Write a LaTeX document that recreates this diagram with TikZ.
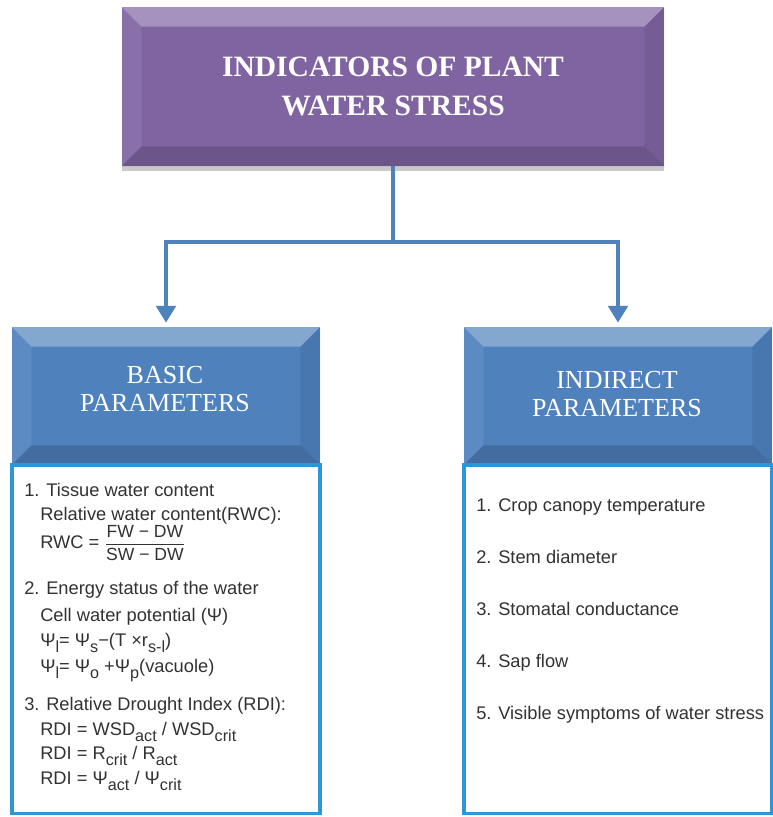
\documentclass[tikz,border=0pt]{standalone}
\usepackage{fontspec}
\setmainfont{Liberation Serif}
\newfontfamily\arialfont{Liberation Sans}
\usetikzlibrary{arrows.meta}
\usetikzlibrary{shadows}
\usetikzlibrary{calc}
\definecolor{plum}{RGB}{128,100,162}
\definecolor{steel}{RGB}{79,129,189}
\definecolor{sky}{RGB}{45,150,215}
\definecolor{ink}{RGB}{50,50,50}
\newcommand{\lowtxt}[1]{\raisebox{-0.6ex}{\fontsize{11.5}{11.5}\selectfont #1}}

\begin{document}
\begin{tikzpicture}[x=0.025cm, y=-0.025cm,
    titlebox/.style={fill=plum, minimum width=13.55cm, minimum height=3.975cm, inner sep=0pt,
      drop shadow={shadow xshift=0cm, shadow yshift=-0.12cm, opacity=0.35, fill=black!60}},
    headbox/.style={fill=steel, minimum width=7.7cm, minimum height=3.45cm, inner sep=0pt},
    headtext/.style={text=white, font=\fontsize{18.5}{20}\selectfont, align=center},
    listbox/.style={draw=sky, line width=2.2pt, fill=white, minimum width=7.7cm, minimum height=8.7cm, inner sep=0pt},
    item/.style={anchor=west, text=ink, font=\arialfont\fontsize{13}{13}\selectfont, inner sep=0pt, text height=9.5pt, text depth=2.5pt},
    link/.style={draw=steel, line width=3.5pt, shorten >=0.1cm, -{Triangle[width=0.48cm,length=0.42cm]}}
  ]
    \path[use as bounding box] (0,0) rectangle (772,817);

    \node[titlebox] (title) at (393,86.5) {};
    \node[headbox] (basic) at (166,396) {};
    \node[headbox] (indirect) at (618,396) {};

    % bevel edges
    \foreach \b in {title, basic, indirect} {
      \fill[white, opacity=0.3] (\b.north west) -- (\b.north east) -- ([shift={(-20,20)}]\b.north east) -- ([shift={(20,20)}]\b.north west) -- cycle;
      \fill[white, opacity=0.08] (\b.north west) -- ([shift={(20,20)}]\b.north west) -- ([shift={(20,-20)}]\b.south west) -- (\b.south west) -- cycle;
      \fill[black, opacity=0.08] (\b.north east) -- ([shift={(-20,20)}]\b.north east) -- ([shift={(-20,-20)}]\b.south east) -- (\b.south east) -- cycle;
      \fill[black, opacity=0.15] (\b.south west) -- ([shift={(20,-20)}]\b.south west) -- ([shift={(-20,-20)}]\b.south east) -- (\b.south east) -- cycle;
    }
    \node[text=white, font=\fontsize{21}{27.5}\selectfont\bfseries, align=center] (titletxt) at (title.center) {INDICATORS OF PLANT\\WATER STRESS};

    \node[headtext] (basictxt) at (165,389) {BASIC\\PARAMETERS};
    \node[headtext] (indirecttxt) at (617,394) {INDIRECT\\PARAMETERS};

    \node[listbox] (basiclist) at (166,639) {};
    \node[listbox] (indirectlist) at (618,639) {};

    \coordinate (fork) at (393,242);
    \draw[link] (title.south) -- (fork) -| (basic.north);
    \draw[link] (title.south) -- (fork) -| (indirect.north);

    \node[item] (tissue) at (24,492) {1. Tissue water content};
    \node[item] (rwcdef) at (40,516) {Relative water content(RWC):};
    \node[item, text height=16pt, text depth=12pt] (rwc) at (40,546)
      {RWC = $\displaystyle\frac{\hbox{\arialfont\fontsize{12.5}{12.5}\selectfont FW − DW}}{\hbox{\arialfont\fontsize{12.5}{12.5}\selectfont SW − DW}}$};
    \node[item] (energy) at (24,590) {2. Energy status of the water};
    \node[item] (cellpot) at (40,617) {Cell water potential (Ψ)};
    \node[item] (psil) at (40,642) {Ψ\lowtxt{l}= Ψ\lowtxt{s}−(T ×r\lowtxt{s-l})};
    \node[item] (psio) at (40,668) {Ψ\lowtxt{l}= Ψ\lowtxt{o} +Ψ\lowtxt{p}(vacuole)};
    \node[item] (drought) at (24,706) {3. Relative Drought Index (RDI):};
    \node[item] (rdia) at (40,731) {RDI = WSD\lowtxt{act} / WSD\lowtxt{crit}};
    \node[item] (rdib) at (40,755) {RDI = R\lowtxt{crit} / R\lowtxt{act}};
    \node[item] (rdic) at (40,780) {RDI = Ψ\lowtxt{act} / Ψ\lowtxt{crit}};

    \foreach \i/\t in {1/Crop canopy temperature, 2/Stem diameter, 3/Stomatal conductance,
                      4/Sap flow, 5/Visible symptoms of water stress} {
      \node[item] (ind\i) at (476, 455+52*\i) {\i. \t};
    }
\end{tikzpicture}
\end{document}
